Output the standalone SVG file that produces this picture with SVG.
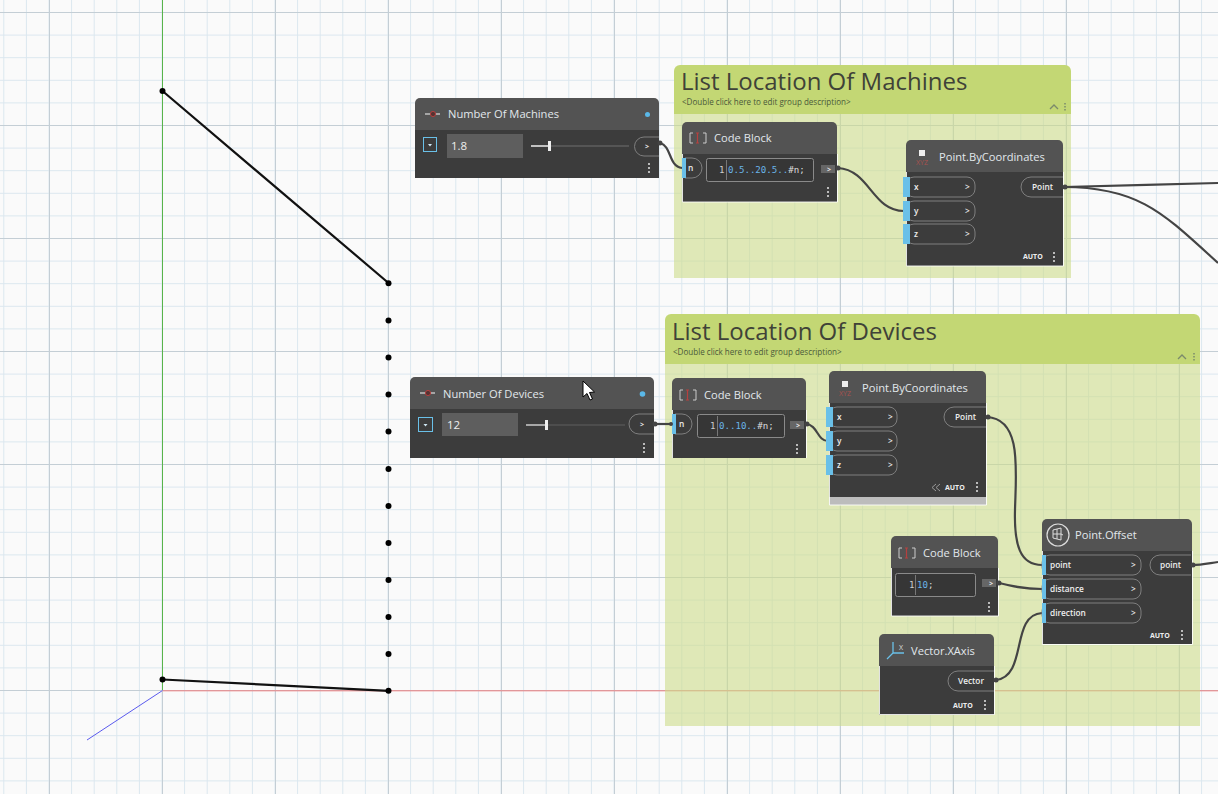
<svg xmlns="http://www.w3.org/2000/svg" width="1218" height="794" viewBox="0 0 1218 794">
<style>
text{font-family:"Open Sans","Liberation Sans",sans-serif}
.hd{fill:#535353}.bd{fill:#3c3c3c}
.edge{fill:none;stroke:#fff;stroke-width:1;opacity:.85}
.t{fill:#e2e8ec;font-size:11.15px;font-weight:400}
.gt{fill:#3f4238;font-size:24px}
.gd{fill:#4b5a3a;font-size:8.05px}
.p{fill:#3c3c3c;stroke:#7f7f7f;stroke-width:1}
.b{fill:#6ac0e8}
.l{fill:#eee;font-size:8.3px;font-weight:600}
.a{fill:#eee;font-size:7px;font-weight:700}
.cb{fill:#363636;stroke:#8a8a8a;stroke-width:1}
.code{font-family:"DejaVu Sans Mono","Liberation Mono",monospace;font-size:9.100px}
.wire{fill:none;stroke:#444;stroke-width:2.2}
.cap{fill:#444}
.pt{fill:#000}
.d{fill:#bbb}
.og{fill:#666}
</style>
<defs>
<pattern id="minor" width="22.6" height="22.6" patternUnits="userSpaceOnUse" x="3.3" y="12">
<path d="M.5 0V22.6M0 .5H22.6" fill="none" stroke="#dbe7ef" stroke-width="1"/>
</pattern>
<pattern id="major" width="113" height="113" patternUnits="userSpaceOnUse" x="49" y="12">
<path d="M.5 0V113M0 .5H113" fill="none" stroke="#c4ced5" stroke-width="1"/>
</pattern>
<g id="dots"><rect x="-1" y="-5" width="2" height="2" class="d"/><rect x="-1" y="-1" width="2" height="2" class="d"/><rect x="-1" y="3" width="2" height="2" class="d"/></g>
<g id="cbicon"><path d="M3 -5H0V5H3M13 -5H16V5H13" fill="none" stroke="#ccc" stroke-width="1"/><path d="M6 -5H9M7.5 -5V5M6 5H9" fill="none" stroke="#b5403f" stroke-width="1.2"/></g>
<g id="xyz"><rect x="-3" y="-6" width="6" height="6" fill="#eee"/><text x="0" y="9" text-anchor="middle" style="font-size:7px" fill="#a8524f">XYZ</text></g>
<g id="slicon"><path d="M-8 0H7" stroke="#ddd" stroke-width="1.2"/><circle r="2.6" fill="#533" stroke="#b5403f"/></g>
</defs>

<rect width="1218" height="794" fill="#fafafa"/>
<rect width="1218" height="794" fill="url(#minor)"/>
<rect width="1218" height="794" fill="url(#major)"/>

<g id="scene">
<path d="M162.5 0V690" stroke="#58b44a" stroke-width="1" fill="none"/>
<path d="M162.500 690.800H1218" stroke="#ee8080" stroke-width="1" fill="none"/>
<path d="M162.500 690.500L87 740" stroke="#5a5aee" stroke-width="1" fill="none"/>
<path d="M162.500 91L388.500 283M162.500 679.500L388.500 690.800" stroke="#111" stroke-width="2.2" fill="none"/>
<g class="pt">
<circle cx="162.500" cy="91" r="3"/><circle cx="162.500" cy="679.500" r="3"/>
<circle cx="388.500" cy="283.300" r="3"/><circle cx="388.500" cy="320.500" r="3"/><circle cx="388.500" cy="357.500" r="3"/><circle cx="388.500" cy="394.500" r="3"/><circle cx="388.500" cy="431.500" r="3"/><circle cx="388.500" cy="469" r="3"/><circle cx="388.500" cy="506" r="3"/><circle cx="388.500" cy="543" r="3"/><circle cx="388.500" cy="580" r="3"/><circle cx="388.500" cy="617" r="3"/><circle cx="388.500" cy="654" r="3"/><circle cx="388.500" cy="690.800" r="3"/>
</g>
</g>

<g id="group-machines">
<path d="M674 114H1071V278H674Z" fill="#cddc8a" fill-opacity=".6"/>
<path d="M674 114V71a6 6 0 0 1 6-6H1065a6 6 0 0 1 6 6V114Z" fill="#c3d774"/>
<text class="gt" x="681" y="90">List Location Of Machines</text>
<text class="gd" x="682" y="105">&lt;Double click here to edit group description&gt;</text>
<path d="M1050 109l4-4 4 4" fill="none" stroke="#7b8a6b" stroke-width="1.3"/>
<path d="M1065 103v1.600M1065 106v1.600M1065 109v1.600" stroke="#7b8a6b" stroke-width="1.500" fill="none"/>
</g>
<g id="group-devices">
<path d="M665 364H1200V726H665Z" fill="#cddc8a" fill-opacity=".6"/>
<path d="M665 364V320a6 6 0 0 1 6-6H1194a6 6 0 0 1 6 6V364Z" fill="#c3d774"/>
<text class="gt" x="672" y="340">List Location Of Devices</text>
<text class="gd" x="673" y="355">&lt;Double click here to edit group description&gt;</text>
<path d="M1178 359l4-4 4 4" fill="none" stroke="#7b8a6b" stroke-width="1.3"/>
<path d="M1194 353v1.600M1194 356v1.600M1194 359v1.600" stroke="#7b8a6b" stroke-width="1.500" fill="none"/>
</g>

<g id="connectors">
<path class="wire" d="M660 143C672 146 668 166 682 168"/>
<path class="wire" d="M838 168C870 170 872 211 904 211"/>
<path class="wire" d="M1064 187C1110 186 1170 184 1218 183"/>
<path class="wire" d="M1064 187C1140 187 1165 215 1218 263"/>
<path class="wire" d="M655 424H672"/>
<path class="wire" d="M806 424C818 425 817 441 828 441"/>
<path class="wire" d="M987 417C1022 419 1016 470 1015 510C1014 545 1020 565 1042 565"/>
<path class="wire" d="M999 583C1015 587 1025 589 1042 589"/>
<path class="wire" d="M996 680C1028 676 1010 615 1042 613"/>
<path class="wire" d="M1192 565C1202 565 1210 563 1218 562"/>
</g>

<g id="node-number-of-machines">
<path class="bd" d="M415 130H659V178H415Z"/>
<path class="hd" d="M415 130V103a5 5 0 0 1 5-5H654a5 5 0 0 1 5 5V130Z"/>
<use href="#slicon" transform="translate(433 114)"/>
<text class="t" x="448" y="118">Number Of Machines</text>
<circle cx="647.500" cy="114.500" r="2.500" fill="#5ab8e8"/>
<rect x="423.500" y="137.500" width="13" height="14" fill="#3c3c3c" stroke="#6ac0e8"/><path d="M428 144h4l-2 2.500z" fill="#cfe8f5"/>
<rect x="447" y="134" width="76" height="24" fill="#5e5e5e"/>
<text x="451" y="150" fill="#eee" style="font-size:11.500px">1.8</text>
<path d="M531 146H549" stroke="#eee" stroke-width="1.500"/><path d="M549 146H629" stroke="#5e5e5e" stroke-width="1.500"/>
<rect x="548" y="141" width="3" height="10" fill="#eee"/>
<path class="p" d="M659 137H644a9.500 9.500 0 0 0 0 19H659"/><text class="a" x="645" y="148.500">&gt;</text>
<use href="#dots" transform="translate(649 168)"/>
</g>

<g id="node-code-block-1">
<path class="bd" d="M682 154H837V202H682Z"/>
<path class="hd" d="M682 154V127a5 5 0 0 1 5-5H832a5 5 0 0 1 5 5V154Z"/>
<path d="M682.500 154V202H837.500V154" class="edge"/>
<use href="#cbicon" transform="translate(690 138)"/>
<text class="t" x="714" y="142">Code Block</text>
<path class="p" d="M685 158H692a9.500 9.500 0 0 1 0 20H685Z"/><rect class="b" x="682" y="158" width="4" height="20"/>
<text class="l" x="688" y="171">n</text>
<rect x="706.500" y="158.500" width="107" height="23" rx="2" class="cb"/>
<text class="code" x="719" y="172.500" fill="#ccc">1</text><path d="M726.500 160V180" stroke="#777"/>
<text class="code" x="728" y="172.500"><tspan fill="#6ab4e8">0.5..20.5..</tspan><tspan fill="#ddd">#n;</tspan></text>
<rect x="821" y="165" width="14" height="8" class="og"/><text class="a" x="827" y="172">&gt;</text>
<use href="#dots" transform="translate(828 192)"/>
</g>

<g id="node-point-bycoordinates-1">
<path class="bd" d="M906 172H1063V266H906Z"/>
<path class="hd" d="M906 172V145a5 5 0 0 1 5-5H1058a5 5 0 0 1 5 5V172Z"/>
<path d="M906.500 172V266H1063.500V172" class="edge"/>
<use href="#xyz" transform="translate(922 156)"/>
<text class="t" x="939" y="161">Point.ByCoordinates</text>
<rect class="p" x="906" y="177" width="69" height="20" rx="8"/><rect class="p" x="906" y="201" width="69" height="20" rx="8"/><rect class="p" x="906" y="224" width="69" height="20" rx="8"/>
<rect class="b" x="903" y="177" width="7" height="20"/><rect class="b" x="903" y="201" width="7" height="20"/><rect class="b" x="903" y="224" width="7" height="20"/>
<text class="l" x="914" y="190">x</text><text class="l" x="914" y="214">y</text><text class="l" x="914" y="237">z</text>
<text class="l" x="965" y="190">&gt;</text><text class="l" x="965" y="214">&gt;</text><text class="l" x="965" y="237">&gt;</text>
<path class="p" d="M1063 177H1031a9.500 9.500 0 0 0 0 20H1063"/><text class="l" x="1032" y="190">Point</text>
<text class="a" x="1023" y="259">AUTO</text><use href="#dots" transform="translate(1054 257)"/>
</g>

<g id="node-number-of-devices">
<path class="bd" d="M410 409H654V458H410Z"/>
<path class="hd" d="M410 409V382a5 5 0 0 1 5-5H649a5 5 0 0 1 5 5V409Z"/>
<use href="#slicon" transform="translate(428 393)"/>
<text class="t" x="443" y="398">Number Of Devices</text>
<circle cx="642.500" cy="394" r="2.800" fill="#5ab8e8"/>
<rect x="418.500" y="417.500" width="14" height="14" fill="#3c3c3c" stroke="#6ac0e8"/><path d="M423.500 424h4l-2 2.500z" fill="#cfe8f5"/>
<rect x="442" y="413" width="76" height="23" fill="#5e5e5e"/>
<text x="447" y="429" fill="#eee" style="font-size:11.500px">12</text>
<path d="M526 425H546" stroke="#eee" stroke-width="1.200"/><path d="M546 425H625" stroke="#5e5e5e" stroke-width="1.200"/>
<rect x="545" y="420" width="3" height="10" fill="#eee"/>
<path class="p" d="M654 414H639a10 10 0 0 0 0 20H654"/><text class="a" x="640" y="426.500">&gt;</text>
<use href="#dots" transform="translate(644 448)"/>
</g>

<g id="node-code-block-2">
<path class="bd" d="M672 410H806V458H672Z"/>
<path class="hd" d="M672 410V383a5 5 0 0 1 5-5H801a5 5 0 0 1 5 5V410Z"/>
<path d="M672.500 410V458M806.500 410V458" class="edge"/>
<use href="#cbicon" transform="translate(680 395)"/>
<text class="t" x="704" y="399">Code Block</text>
<path class="p" d="M675 414H682a9.500 9.500 0 0 1 0 20H675Z"/><rect class="b" x="672" y="414" width="4" height="20"/>
<text class="l" x="679" y="427">n</text>
<rect x="697.500" y="414.500" width="87" height="23" rx="2" class="cb"/>
<text class="code" x="710" y="428.500" fill="#ccc">1</text><path d="M717.500 416V436" stroke="#777"/>
<text class="code" x="719" y="428.500"><tspan fill="#6ab4e8">0..10..</tspan><tspan fill="#ddd">#n;</tspan></text>
<rect x="790" y="421" width="14" height="8" class="og"/><text class="a" x="796" y="428">&gt;</text>
<use href="#dots" transform="translate(797 449)"/>
</g>

<g id="node-point-bycoordinates-2">
<path class="bd" d="M829 403H986V505H829Z"/>
<path class="hd" d="M829 403V376a5 5 0 0 1 5-5H981a5 5 0 0 1 5 5V403Z"/>
<rect x="829" y="497" width="157" height="8" fill="#bcbcbc"/>
<path d="M829.500 403V505H986.500V403" class="edge"/>
<use href="#xyz" transform="translate(845 387)"/>
<text class="t" x="862" y="392">Point.ByCoordinates</text>
<rect class="p" x="829" y="407" width="68" height="20" rx="8"/><rect class="p" x="829" y="431" width="68" height="20" rx="8"/><rect class="p" x="829" y="455" width="68" height="20" rx="8"/>
<rect class="b" x="826" y="407" width="7" height="20"/><rect class="b" x="826" y="431" width="7" height="20"/><rect class="b" x="826" y="455" width="7" height="20"/>
<text class="l" x="837" y="420">x</text><text class="l" x="837" y="444">y</text><text class="l" x="837" y="468">z</text>
<text class="l" x="888" y="420">&gt;</text><text class="l" x="888" y="444">&gt;</text><text class="l" x="888" y="468">&gt;</text>
<path class="p" d="M986 407H954a9.500 9.500 0 0 0 0 20H986"/><text class="l" x="955" y="420">Point</text>
<path d="M936 484l-4 3.500 4 3.500M940 484l-4 3.500 4 3.500" fill="none" stroke="#999"/>
<text class="a" x="945" y="490">AUTO</text><use href="#dots" transform="translate(977 487)"/>
</g>

<g id="node-code-block-3">
<path class="bd" d="M891 568H998V616H891Z"/>
<path class="hd" d="M891 568V541a5 5 0 0 1 5-5H993a5 5 0 0 1 5 5V568Z"/>
<path d="M891.500 568V616H998.500V568" class="edge"/>
<use href="#cbicon" transform="translate(899 553)"/>
<text class="t" x="923" y="557">Code Block</text>
<rect x="895.500" y="573.500" width="80" height="23" rx="2" class="cb"/>
<text class="code" x="909" y="587.500" fill="#ccc">1</text><path d="M915.500 575V595" stroke="#777"/>
<text class="code" x="917" y="587.500"><tspan fill="#6ab4e8">10</tspan><tspan fill="#ddd">;</tspan></text>
<rect x="982" y="579" width="14" height="8" class="og"/><text class="a" x="989" y="586">&gt;</text>
<use href="#dots" transform="translate(989 607)"/>
</g>

<g id="node-vector-xaxis">
<path class="bd" d="M879 666H994V715H879Z"/>
<path class="hd" d="M879 666V639a5 5 0 0 1 5-5H989a5 5 0 0 1 5 5V666Z"/>
<path d="M879.500 666V714.500H994.500V666" class="edge"/>
<path d="M893 642V653M893 653H904M893 653L887 659" fill="none" stroke="#6ac0e8" stroke-width="1.300"/><text x="899" y="650" fill="#ddd" style="font-size:7px">X</text>
<text class="t" x="911" y="655">Vector.XAxis</text>
<path class="p" d="M994 671H958a9.500 9.500 0 0 0 0 20H994"/><text class="l" x="958" y="684">Vector</text>
<text class="a" x="953" y="708">AUTO</text><use href="#dots" transform="translate(985 705)"/>
</g>

<g id="node-point-offset">
<path class="bd" d="M1042 551H1192V644H1042Z"/>
<path class="hd" d="M1042 551V524a5 5 0 0 1 5-5H1187a5 5 0 0 1 5 5V551Z"/>
<path d="M1042.500 551V644.500H1192.500V551" class="edge"/>
<circle cx="1058" cy="535" r="11" fill="none" stroke="#ddd" stroke-width="1.200"/><path d="M1053 530l8-2v12l-8-2zM1057 529v10M1053 534h8l2 1" fill="none" stroke="#ddd" stroke-width="1"/>
<text class="t" x="1075" y="539">Point.Offset</text>
<rect class="p" x="1042" y="555" width="99" height="20" rx="8"/><rect class="p" x="1042" y="579" width="99" height="20" rx="8"/><rect class="p" x="1042" y="603" width="99" height="20" rx="8"/>
<rect class="b" x="1042" y="555" width="4" height="20"/><rect class="b" x="1042" y="579" width="4" height="20"/><rect class="b" x="1042" y="603" width="4" height="20"/>
<text class="l" x="1050" y="568">point</text><text class="l" x="1050" y="592">distance</text><text class="l" x="1050" y="616">direction</text>
<text class="l" x="1131" y="568">&gt;</text><text class="l" x="1131" y="592">&gt;</text><text class="l" x="1131" y="616">&gt;</text>
<path class="p" d="M1191 555H1160a9.500 9.500 0 0 0 0 20H1191"/><text class="l" x="1160" y="568">point</text>
<text class="a" x="1150" y="638">AUTO</text><use href="#dots" transform="translate(1182 635)"/>
</g>

<g id="caps" class="cap">
<circle cx="660" cy="143" r="2.500"/><circle cx="838" cy="168" r="2.500"/><circle cx="1065" cy="187" r="2.500"/><circle cx="655" cy="424" r="2.500"/><circle cx="671" cy="424" r="2"/><circle cx="807" cy="424" r="2.500"/><circle cx="988" cy="417" r="2.500"/><circle cx="999" cy="583" r="2.500"/><circle cx="996" cy="680" r="2.500"/><circle cx="1193" cy="565" r="2.500"/>
</g>

<path id="cursor" d="M583 381V397L587 393.500L590 400L592.500 399L589.500 392.500L594.500 392Z" fill="#fff" stroke="#000" stroke-width="1"/>
</svg>
